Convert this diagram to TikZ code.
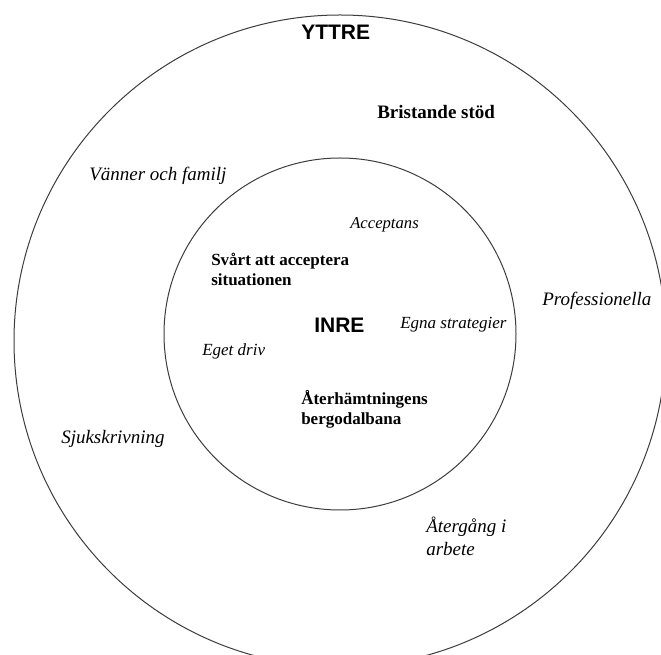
\documentclass[tikz,border=0pt]{standalone}
\usepackage{fontspec}
\setmainfont{Liberation Serif}
\setsansfont{Liberation Sans}
\usetikzlibrary{positioning}

\begin{document}
\begin{tikzpicture}[x=0.75pt,y=0.75pt,yscale=-1,xscale=1]
%set diagram left start at 0, and has height of 655
\useasboundingbox (0,0) rectangle (661,655);
\clip (0,0) rectangle (661,655);

%Shape: Circle [outer]
\draw [color={rgb, 255:red, 60; green, 60; blue, 60 }  ][line width=0.75]  (340,341) circle [radius=326] ;
%Shape: Circle [inner]
\draw [color={rgb, 255:red, 60; green, 60; blue, 60 }  ][line width=0.75]  (340,334) circle [radius=176] ;

% Text Node
\draw (300,24) node (yttre) [anchor=north west][inner sep=0.75pt]  [font=\sffamily\bfseries\fontsize{15.75}{18}\selectfont]  {YTTRE};
% Text Node
\draw (376,104) node (stod) [anchor=north west][inner sep=0.75pt]  [font=\bfseries\fontsize{14.25}{16}\selectfont]  {Bristande stöd};
% Text Node
\draw (88,166) node (vanner) [anchor=north west][inner sep=0.75pt]  [font=\itshape\fontsize{14.25}{16}\selectfont]  {Vänner och familj};
% Text Node
\draw (349,216) node (accept) [anchor=north west][inner sep=0.75pt]  [font=\itshape\fontsize{12.5}{14}\selectfont]  {Acceptans};
% Text Node
\draw (210,252) node (svart) [anchor=north west][inner sep=0.75pt]  [font=\bfseries\fontsize{12.75}{15}\selectfont, align=left]  {Svårt att acceptera\\situationen};
% Text Node
\draw (313,317) node (inre) [anchor=north west][inner sep=0.75pt]  [font=\sffamily\bfseries\fontsize{15.75}{18}\selectfont]  {INRE};
% Text Node
\draw (399,316) node (egna) [anchor=north west][inner sep=0.75pt]  [font=\itshape\fontsize{12.75}{15}\selectfont]  {Egna strategier};
% Text Node
\draw (201,342) node (driv) [anchor=north west][inner sep=0.75pt]  [font=\itshape\fontsize{12.75}{15}\selectfont]  {Eget driv};
% Text Node
\draw (541,291) node (prof) [anchor=north west][inner sep=0.75pt]  [font=\itshape\fontsize{14.25}{16}\selectfont]  {Professionella};
% Text Node
\draw (300,389) node (berg) [anchor=north west][inner sep=0.75pt]  [font=\bfseries\fontsize{12.75}{15}\selectfont, align=left]  {Återhämtningens\\bergodalbana};
% Text Node
\draw (60,429) node (sjuk) [anchor=north west][inner sep=0.75pt]  [font=\itshape\fontsize{14.25}{16}\selectfont]  {Sjukskrivning};
% Text Node
\draw (425,516) node (atergang) [anchor=north west][inner sep=0.75pt]  [font=\itshape\fontsize{14.25}{17}\selectfont, align=left]  {Återgång i\\arbete};

\end{tikzpicture}
\end{document}
